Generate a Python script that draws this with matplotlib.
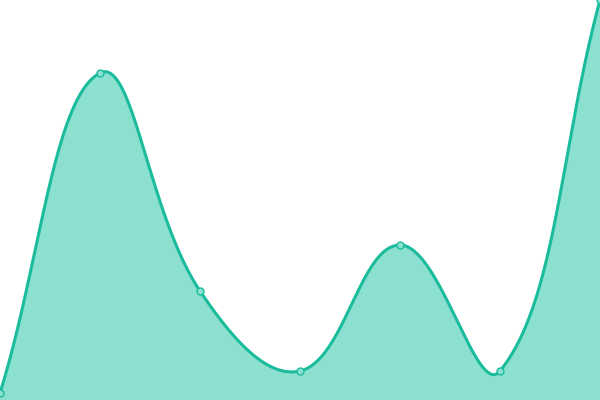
import matplotlib
matplotlib.use("Agg")
import matplotlib.pyplot as plt
import numpy as np

# punkty danych (x co 1, y w jednostkach wykresu 0-400)
xs = [0, 1, 2, 3, 4, 5, 6]
ys = [7, 327, 109, 29, 155, 29, 400]

line_color = "#1abc9c"
fill_color = "#8ce0d0"
tension = 0.4


def spline_pix(p, t, w, h):
    # krzywa jak w chart.js: punkty kontrolne liczone z odleglosci w pikselach
    n = len(p)
    before = np.zeros_like(p)
    after = np.zeros_like(p)
    for i in range(n):
        prev = p[max(i - 1, 0)]
        cur = p[i]
        nxt = p[min(i + 1, n - 1)]
        d01 = np.hypot(*(cur - prev))
        d12 = np.hypot(*(nxt - cur))
        s01 = d01 / (d01 + d12)
        s12 = d12 / (d01 + d12)
        before[i] = cur - t * s01 * (nxt - prev)
        after[i] = cur + t * s12 * (nxt - prev)
    before[:, 0] = np.clip(before[:, 0], 0, w)
    before[:, 1] = np.clip(before[:, 1], 0, h)
    after[:, 0] = np.clip(after[:, 0], 0, w)
    after[:, 1] = np.clip(after[:, 1], 0, h)
    u = np.linspace(0, 1, 80)[:, None]
    out = []
    for i in range(n - 1):
        b = ((1 - u) ** 3 * p[i] + 3 * (1 - u) ** 2 * u * after[i]
             + 3 * (1 - u) * u ** 2 * before[i + 1] + u ** 3 * p[i + 1])
        out.append(b if i == 0 else b[1:])
    return np.vstack(out)


fig = plt.figure(figsize=(6, 4), dpi=100)
ax = fig.add_axes([0, 0, 1, 1])
ax.set_xlim(0, 6)
ax.set_ylim(0, 400)
ax.axis("off")

pix = ax.transData.transform(np.column_stack([xs, ys]))
curve = spline_pix(pix, tension, fig.bbox.width, fig.bbox.height)
cd = ax.transData.inverted().transform(curve)

ax.fill_between(cd[:, 0], cd[:, 1], 0, color=fill_color, lw=0)
ax.plot(cd[:, 0], cd[:, 1], color=line_color, lw=2.2)
ax.plot(xs, ys, "o", ms=5, mfc=fill_color, mec=line_color, mew=1)
fig.savefig("out.png", dpi=100)
